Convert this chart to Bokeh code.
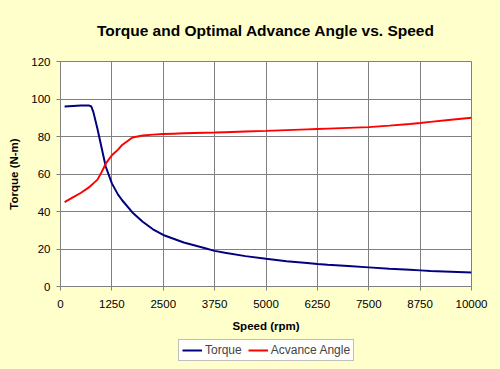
from bokeh.plotting import figure
from bokeh.layouts import column
from bokeh.models import Range1d, FixedTicker, Legend, LegendItem
from bokeh.embed import file_html
from bokeh.resources import INLINE

speed_rpm = [100, 300, 500, 700, 750, 800, 900, 1000, 1100, 1250, 1400, 1500, 1750,
             2000, 2250, 2500, 2750, 3000, 3500, 3750, 4000, 4500, 5000, 5500, 6000,
             6250, 6500, 7000, 7500, 8000, 8500, 8750, 9000, 9500, 10000]
torque = [96, 96.3, 96.5, 96.5, 96, 93, 84, 74, 64, 55, 49, 46, 39.5,
          34.5, 30.5, 27.5, 25.5, 23.5, 20.5, 19, 18, 16.2, 14.8, 13.5, 12.5,
          12, 11.6, 10.9, 10.2, 9.5, 8.9, 8.6, 8.3, 7.9, 7.5]
advance_angle = [45, 47.5, 50, 53, 54, 55, 57, 61, 65.5, 70, 73, 75.5, 79.5,
                 80.5, 81, 81.3, 81.5, 81.7, 82, 82.1, 82.3, 82.7, 83, 83.4, 83.8,
                 84, 84.2, 84.6, 85, 85.8, 86.7, 87.2, 87.8, 88.9, 90]
x_ticks = [0, 1250, 2500, 3750, 5000, 6250, 7500, 8750, 10000]
y_ticks = [0, 20, 40, 60, 80, 100, 120]
series_names = ["Torque", "Acvance Angle"]
series_colors = ["#000080", "#FF0000"]
series_values = [torque, advance_angle]

FONT = "Liberation Sans"
BG = "#FFFFCC"
GRID = "#808080"

p = figure(width=500, height=336, output_backend="svg", toolbar_location=None,
           x_range=Range1d(0, 10000), y_range=Range1d(0, 120),
           min_border_left=60, min_border_right=29, min_border_top=61, min_border_bottom=50,
           background_fill_color="white", border_fill_color=BG,
           outline_line_color=GRID, outline_line_width=1)

p.title.text = "Torque and Optimal Advance Angle vs. Speed"
p.title.text_font = FONT
p.title.text_font_size = "15.5px"
p.title.text_font_style = "bold"
p.title.text_color = "black"
p.title.align = "center"
p.title.vertical_align = "top"
p.title.standoff = 41

p.xaxis.ticker = FixedTicker(ticks=x_ticks)
p.yaxis.ticker = FixedTicker(ticks=y_ticks)
p.xaxis.axis_label = "Speed (rpm)"
p.yaxis.axis_label = "Torque (N-m)"
for ax in (p.xaxis, p.yaxis):
    ax.axis_label_text_font = FONT
    ax.axis_label_text_font_size = "11.5px"
    ax.axis_label_text_font_style = "bold"
    ax.axis_label_text_color = "black"
    ax.major_label_text_font = FONT
    ax.major_label_text_font_size = "11.5px"
    ax.major_label_text_color = "black"
    ax.axis_line_color = GRID
    ax.major_tick_line_color = GRID
    ax.major_tick_in = 0
    ax.major_tick_out = 4
    ax.minor_tick_line_color = None
p.xaxis.major_label_standoff = 9
p.xaxis.axis_label_standoff = 9
p.yaxis.major_label_standoff = 6
p.yaxis.axis_label_standoff = 8

p.xgrid.grid_line_color = GRID
p.ygrid.grid_line_color = GRID
p.xgrid.grid_line_alpha = 1
p.ygrid.grid_line_alpha = 1

for vals, color in zip(series_values, series_colors):
    p.line(speed_rpm, vals, line_color=color, line_width=2)

# Legend strip below the chart (its lines fall outside its ranges, only the key shows)
p2 = figure(width=500, height=33, output_backend="svg", toolbar_location=None,
            x_axis_location=None, y_axis_location=None,
            min_border=0, border_fill_color=BG, background_fill_color=BG,
            outline_line_color=None, x_range=Range1d(0, 1), y_range=Range1d(0, 1))
p2.title.visible = False
p2.xgrid.visible = False
p2.ygrid.visible = False
items = []
for name, color, vals in zip(series_names, series_colors, series_values):
    r = p2.line(speed_rpm, vals, line_color=color, line_width=2)
    items.append(LegendItem(label=name, renderers=[r]))
legend = Legend(items=items, orientation="horizontal", location=(118, 8),
                label_text_font=FONT, label_text_font_size="12px",
                label_standoff=3, glyph_width=20, glyph_height=10,
                padding=3, spacing=6, margin=0,
                border_line_color="#808080", background_fill_color="white",
                label_height=12)
p2.add_layout(legend, "center")

layout = column(p, p2, spacing=0, styles={"background-color": BG})
open("out.html", "w").write(file_html(layout, INLINE))
